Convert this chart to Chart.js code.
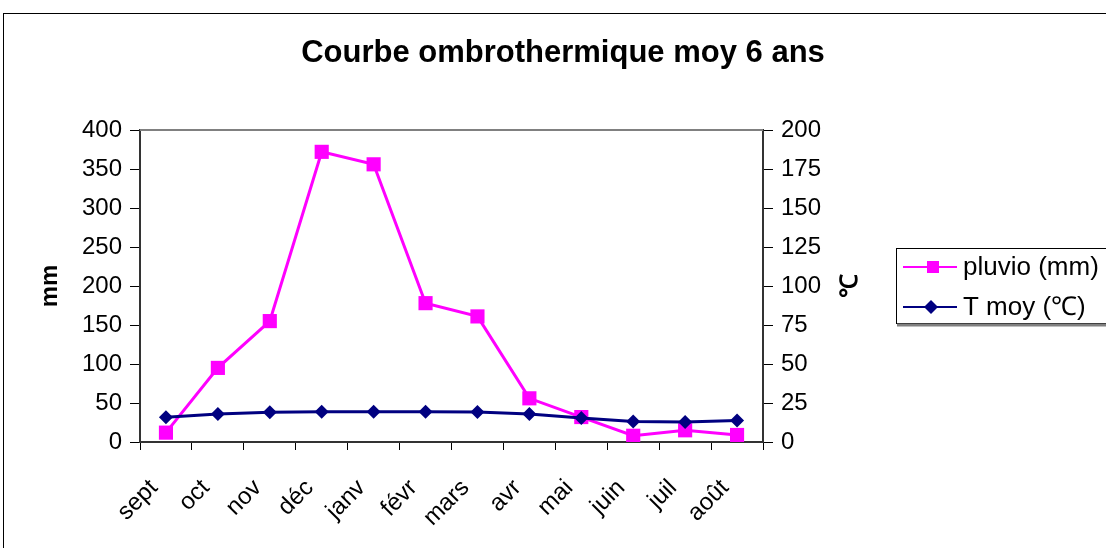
<!DOCTYPE html>
<html>
<head>
<meta charset="utf-8">
<script src="https://cdn.jsdelivr.net/npm/chart.js@4"></script>
<style>
  body { margin: 0; background: #fff; }
  #wrap { width: 1106px; height: 548px; }
</style>
</head>
<body>
<div id="wrap"><canvas id="ombro" width="1106" height="548"></canvas></div>
<script>
/* ===== Données ===== */
const TITRE = "Courbe ombrothermique moy 6 ans";
const MOIS = ["sept", "oct", "nov", "déc", "janv", "févr", "mars", "avr", "mai", "juin", "juil", "août"];
const PLUVIO = [12, 95, 155, 372, 356, 178, 161, 56, 32, 8, 15, 9];          // mm
const TMOY = [15.8, 17.9, 19, 19.4, 19.4, 19.4, 19.2, 17.9, 15.4, 13.2, 12.8, 13.8]; // °C
const MM_TICKS = [0, 400, 50];   // min, max, pas
const C_TICKS = [0, 200, 25];

const FONT = "Arial, 'Liberation Sans', sans-serif";
const PINK = "#ff00ff";
const NAVY = "#000080";

/* ===== Cadre, titre, légende, titre axe droit ===== */
const decor = {
  id: "decor",
  beforeDraw(chart) {
    const c = chart.ctx;
    c.save();
    c.fillStyle = "#fff";
    c.fillRect(0, 0, chart.width, chart.height);
    c.strokeStyle = "#000";
    c.lineWidth = 1;
    c.strokeRect(3.5, 13.5, 1200, 600);

    c.fillStyle = "#000";
    c.font = "bold 31px " + FONT;
    c.textAlign = "center";
    c.textBaseline = "middle";
    c.fillText(TITRE, 563, 53);
    c.restore();
  },
  afterDatasetsDraw(chart) {
    const c = chart.ctx;
    const a = chart.chartArea;
    c.save();
    // bord gris en haut de la zone de tracé
    c.strokeStyle = "#808080";
    c.lineWidth = 2;
    c.beginPath();
    c.moveTo(a.left, a.top);
    c.lineTo(a.right, a.top);
    c.stroke();

    // titre axe droit, tourné comme dans Excel
    c.fillStyle = "#000";
    c.font = "bold 24px " + FONT;
    c.textAlign = "center";
    c.textBaseline = "middle";
    c.translate(850, (a.top + a.bottom) / 2);
    c.rotate(-Math.PI / 2);
    c.fillText("\u2103", 0, 0);
    c.restore();

    // légende
    c.save();
    c.fillStyle = "#fff";
    c.fillRect(896, 248, 230, 76);
    c.strokeStyle = "#000";
    c.lineWidth = 1;
    c.strokeRect(896.5, 248.5, 230, 75);
    c.strokeStyle = "#808080";
    c.lineWidth = 3;
    c.beginPath();
    c.moveTo(897, 325);
    c.lineTo(1106, 325);
    c.stroke();
    c.font = "26px " + FONT;
    c.textBaseline = "middle";
    c.textAlign = "left";
    chart.data.datasets.forEach((ds, i) => {
      const y = 267 + i * 40;
      c.strokeStyle = ds.borderColor;
      c.lineWidth = 2;
      c.beginPath();
      c.moveTo(903, y);
      c.lineTo(957, y);
      c.stroke();
      c.fillStyle = ds.backgroundColor;
      c.beginPath();
      if (ds.pointStyle === "rect") {
        c.rect(927, y - 6, 12, 12);
      } else {
        c.moveTo(931, y - 7); c.lineTo(938, y); c.lineTo(931, y + 7); c.lineTo(924, y);
        c.closePath();
      }
      c.fill();
      c.fillStyle = "#000";
      c.fillText(ds.label, 963, y + 1);
    });
    c.restore();
  }
};

const axisCommon = {
  grid: { display: true, drawOnChartArea: false, drawTicks: true, tickLength: 10, tickColor: "#000", tickWidth: 1 },
  border: { display: true, color: "#333", width: 2 },
  ticks: { color: "#000", font: { family: FONT, size: 24 } },
};

new Chart(document.getElementById("ombro"), {
  type: "line",
  data: {
    labels: MOIS,
    datasets: [
      {
        label: "pluvio (mm)",
        data: PLUVIO,
        yAxisID: "y",
        borderColor: PINK,
        backgroundColor: PINK,
        borderWidth: 3,
        pointStyle: "rect",
        pointRadius: 10,
        pointBorderWidth: 0,
        tension: 0,
        order: 1,
      },
      {
        label: "T moy (\u2103)",
        data: TMOY,
        yAxisID: "y1",
        borderColor: NAVY,
        backgroundColor: NAVY,
        borderWidth: 3,
        pointStyle: "rectRot",
        pointRadius: 7,
        pointBorderWidth: 0,
        tension: 0,
        order: 0,
      },
    ],
  },
  options: {
    responsive: false,
    animation: false,
    layout: { padding: { left: 0, right: 243, top: 130, bottom: 0 } },
    plugins: {
      legend: { display: false },
      tooltip: { enabled: false },
      title: { display: false },
    },
    scales: {
      x: {
        ...axisCommon,
        offset: true,
        grid: { ...axisCommon.grid, tickLength: 8, offset: true },
        ticks: { ...axisCommon.ticks, minRotation: 45, maxRotation: 45, padding: 24, labelOffset: -12, autoSkip: false },
        afterFit: s => { s.height = 106; },
      },
      y: {
        ...axisCommon,
        position: "left",
        min: MM_TICKS[0], max: MM_TICKS[1],
        ticks: { ...axisCommon.ticks, stepSize: MM_TICKS[2], padding: 8 },
        title: {
          display: true, text: "mm", color: "#000",
          font: { family: FONT, size: 24, weight: "bold", lineHeight: 1.2 },
          padding: { top: 36, bottom: 0 },
        },
        afterFit: s => { s.width = 140; },
      },
      y1: {
        ...axisCommon,
        position: "right",
        min: C_TICKS[0], max: C_TICKS[1],
        ticks: { ...axisCommon.ticks, stepSize: C_TICKS[2], padding: 8 },
        afterFit: s => { s.width = 100; },
      },
    },
  },
  plugins: [decor],
});
</script>
</body>
</html>
